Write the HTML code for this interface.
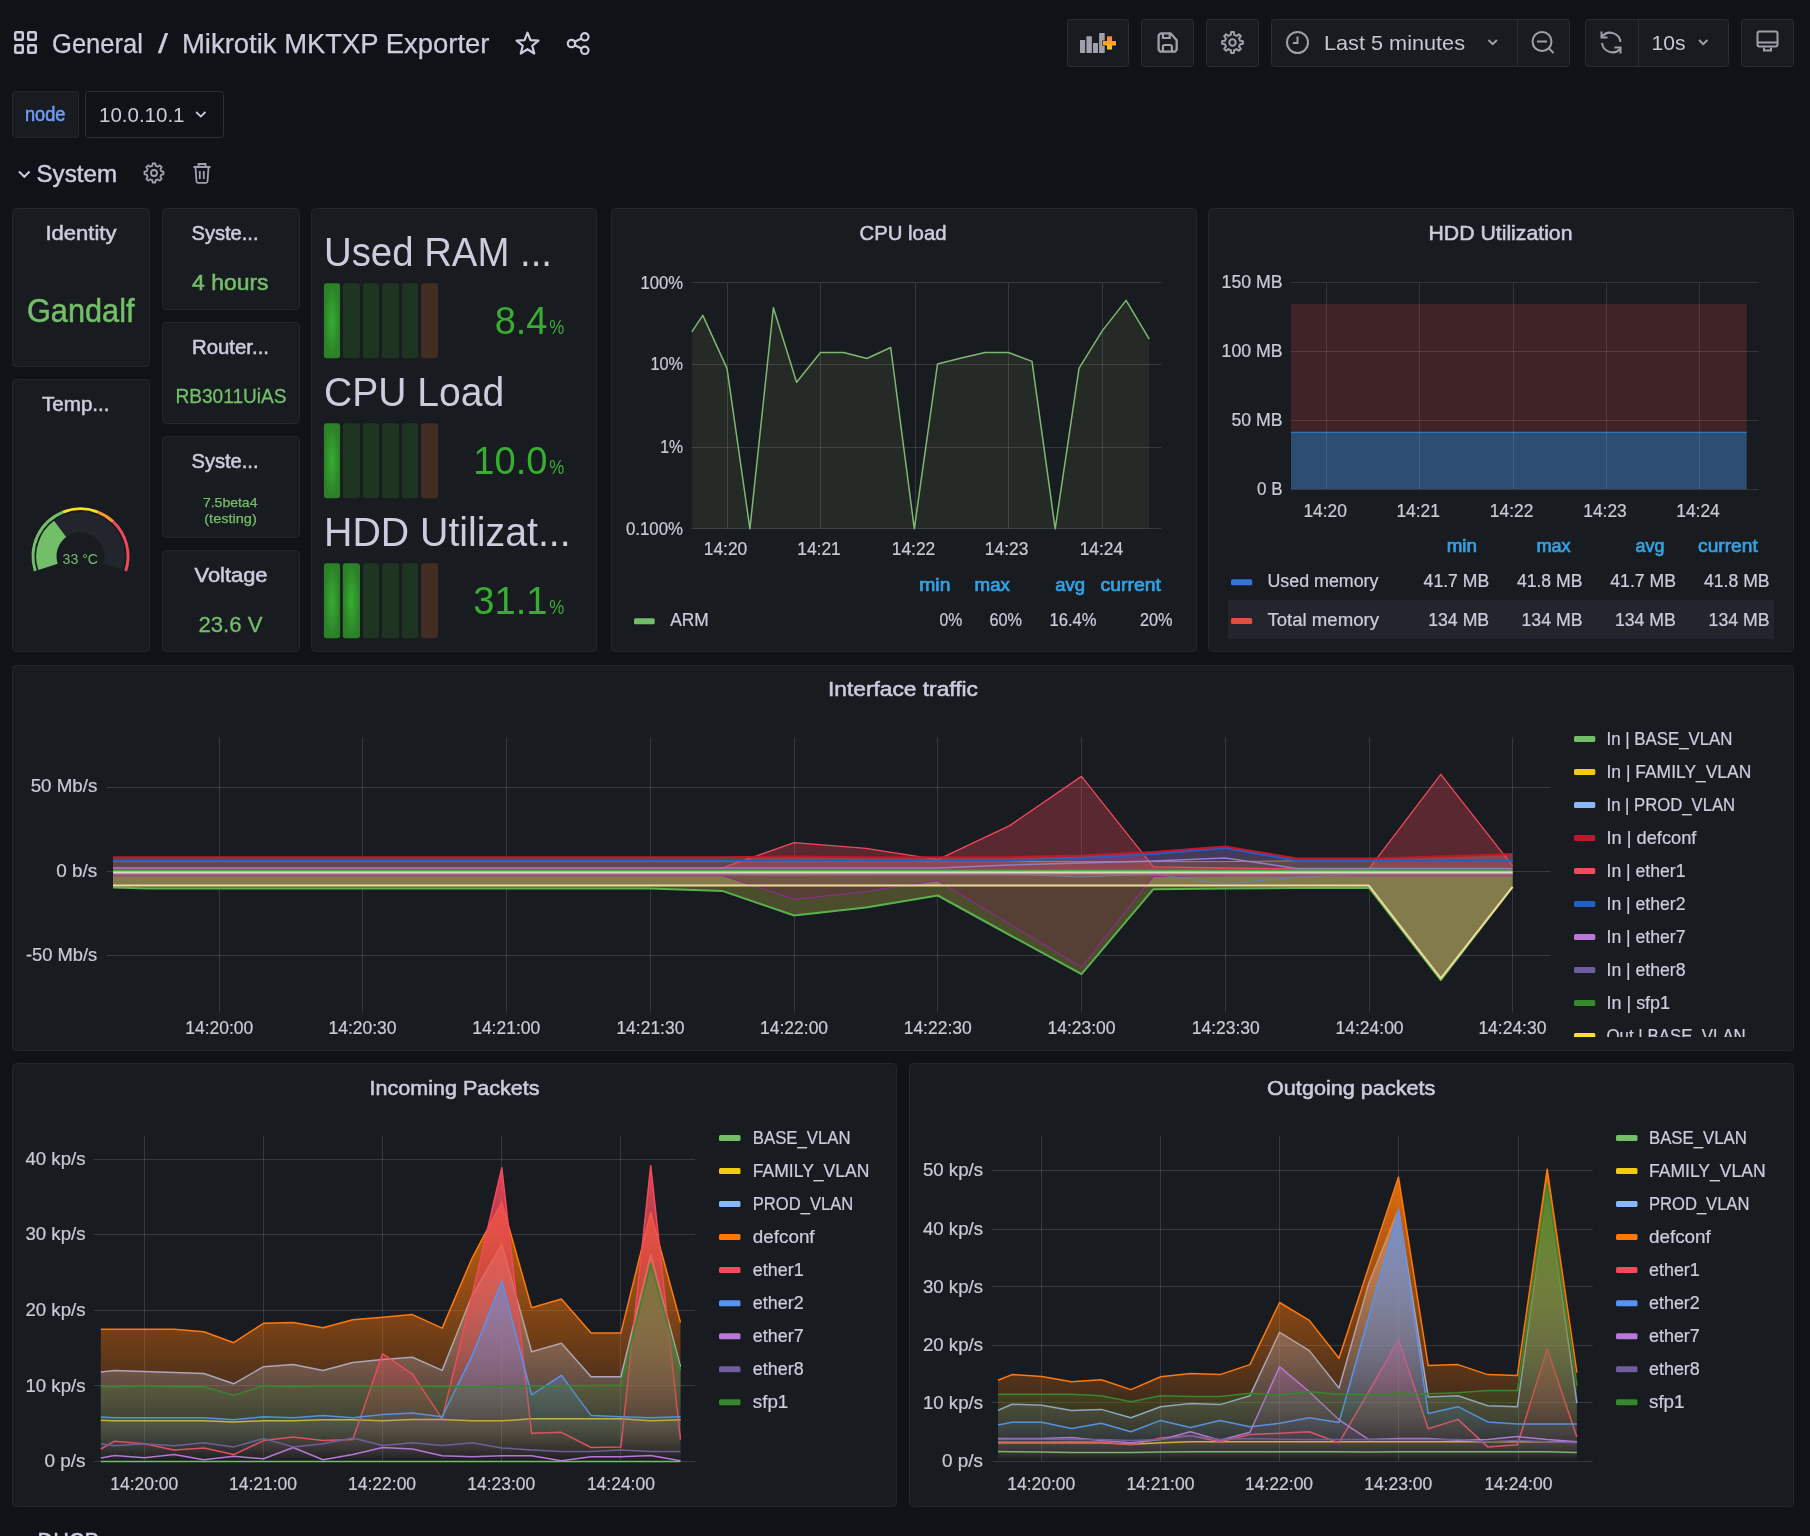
<!DOCTYPE html>
<html><head><meta charset="utf-8"><title>Mikrotik MKTXP Exporter - Grafana</title>
<style>
html,body{margin:0;padding:0;background:#111217;width:1810px;height:1536px;overflow:hidden;}
svg{display:block;font-family:"Liberation Sans", sans-serif;will-change:transform;}
</style></head><body>
<svg width="1810" height="1536" viewBox="0 0 1810 1536">
<defs><linearGradient id="plusg" x1="0" y1="0" x2="0" y2="1"><stop offset="0" stop-color="#f57c3c"/><stop offset="1" stop-color="#ffcb12"/></linearGradient><radialGradient id="lit" cx="0.5" cy="0.5" r="0.5" fx="0.5" fy="0.5"><stop offset="0" stop-color="#38ad32"/><stop offset="1" stop-color="#2c8028"/></radialGradient><clipPath id="lgclip"><rect x="1560" y="715" width="230" height="322"/></clipPath><linearGradient id="g_in_BASE_VLAN" gradientUnits="userSpaceOnUse" x1="0" y1="1135.4" x2="0" y2="1461.2"><stop offset="0" stop-color="#73bf69" stop-opacity="1"/><stop offset="1" stop-color="#73bf69" stop-opacity="0"/></linearGradient><linearGradient id="g_in_FAMILY_VLAN" gradientUnits="userSpaceOnUse" x1="0" y1="1135.4" x2="0" y2="1461.2"><stop offset="0" stop-color="#f2cc0c" stop-opacity="1"/><stop offset="1" stop-color="#f2cc0c" stop-opacity="0"/></linearGradient><linearGradient id="g_in_PROD_VLAN" gradientUnits="userSpaceOnUse" x1="0" y1="1135.4" x2="0" y2="1461.2"><stop offset="0" stop-color="#8ab8ff" stop-opacity="1"/><stop offset="1" stop-color="#8ab8ff" stop-opacity="0"/></linearGradient><linearGradient id="g_in_defconf" gradientUnits="userSpaceOnUse" x1="0" y1="1135.4" x2="0" y2="1461.2"><stop offset="0" stop-color="#ff780a" stop-opacity="1"/><stop offset="1" stop-color="#ff780a" stop-opacity="0"/></linearGradient><linearGradient id="g_in_ether1" gradientUnits="userSpaceOnUse" x1="0" y1="1135.4" x2="0" y2="1461.2"><stop offset="0" stop-color="#f2495c" stop-opacity="1"/><stop offset="1" stop-color="#f2495c" stop-opacity="0"/></linearGradient><linearGradient id="g_in_ether2" gradientUnits="userSpaceOnUse" x1="0" y1="1135.4" x2="0" y2="1461.2"><stop offset="0" stop-color="#5794f2" stop-opacity="1"/><stop offset="1" stop-color="#5794f2" stop-opacity="0"/></linearGradient><linearGradient id="g_in_ether7" gradientUnits="userSpaceOnUse" x1="0" y1="1135.4" x2="0" y2="1461.2"><stop offset="0" stop-color="#b877d9" stop-opacity="1"/><stop offset="1" stop-color="#b877d9" stop-opacity="0"/></linearGradient><linearGradient id="g_in_ether8" gradientUnits="userSpaceOnUse" x1="0" y1="1135.4" x2="0" y2="1461.2"><stop offset="0" stop-color="#705da0" stop-opacity="1"/><stop offset="1" stop-color="#705da0" stop-opacity="0"/></linearGradient><linearGradient id="g_in_sfp1" gradientUnits="userSpaceOnUse" x1="0" y1="1135.4" x2="0" y2="1461.2"><stop offset="0" stop-color="#37872d" stop-opacity="1"/><stop offset="1" stop-color="#37872d" stop-opacity="0"/></linearGradient><linearGradient id="g_out_BASE_VLAN" gradientUnits="userSpaceOnUse" x1="0" y1="1135.4" x2="0" y2="1461.2"><stop offset="0" stop-color="#73bf69" stop-opacity="1"/><stop offset="1" stop-color="#73bf69" stop-opacity="0"/></linearGradient><linearGradient id="g_out_FAMILY_VLAN" gradientUnits="userSpaceOnUse" x1="0" y1="1135.4" x2="0" y2="1461.2"><stop offset="0" stop-color="#f2cc0c" stop-opacity="1"/><stop offset="1" stop-color="#f2cc0c" stop-opacity="0"/></linearGradient><linearGradient id="g_out_PROD_VLAN" gradientUnits="userSpaceOnUse" x1="0" y1="1135.4" x2="0" y2="1461.2"><stop offset="0" stop-color="#8ab8ff" stop-opacity="1"/><stop offset="1" stop-color="#8ab8ff" stop-opacity="0"/></linearGradient><linearGradient id="g_out_defconf" gradientUnits="userSpaceOnUse" x1="0" y1="1135.4" x2="0" y2="1461.2"><stop offset="0" stop-color="#ff780a" stop-opacity="1"/><stop offset="1" stop-color="#ff780a" stop-opacity="0"/></linearGradient><linearGradient id="g_out_ether1" gradientUnits="userSpaceOnUse" x1="0" y1="1135.4" x2="0" y2="1461.2"><stop offset="0" stop-color="#f2495c" stop-opacity="1"/><stop offset="1" stop-color="#f2495c" stop-opacity="0"/></linearGradient><linearGradient id="g_out_ether2" gradientUnits="userSpaceOnUse" x1="0" y1="1135.4" x2="0" y2="1461.2"><stop offset="0" stop-color="#5794f2" stop-opacity="1"/><stop offset="1" stop-color="#5794f2" stop-opacity="0"/></linearGradient><linearGradient id="g_out_ether7" gradientUnits="userSpaceOnUse" x1="0" y1="1135.4" x2="0" y2="1461.2"><stop offset="0" stop-color="#b877d9" stop-opacity="1"/><stop offset="1" stop-color="#b877d9" stop-opacity="0"/></linearGradient><linearGradient id="g_out_ether8" gradientUnits="userSpaceOnUse" x1="0" y1="1135.4" x2="0" y2="1461.2"><stop offset="0" stop-color="#705da0" stop-opacity="1"/><stop offset="1" stop-color="#705da0" stop-opacity="0"/></linearGradient><linearGradient id="g_out_sfp1" gradientUnits="userSpaceOnUse" x1="0" y1="1135.4" x2="0" y2="1461.2"><stop offset="0" stop-color="#37872d" stop-opacity="1"/><stop offset="1" stop-color="#37872d" stop-opacity="0"/></linearGradient></defs>
<rect width="1810" height="1536" fill="#111217"/>
<rect x="15.25" y="32.25" width="7.5" height="7.5" rx="1" fill="none" stroke="#ccccdc" stroke-width="2.5"/>
<rect x="28.25" y="32.25" width="7.5" height="7.5" rx="1" fill="none" stroke="#ccccdc" stroke-width="2.5"/>
<rect x="15.25" y="45.25" width="7.5" height="7.5" rx="1" fill="none" stroke="#ccccdc" stroke-width="2.5"/>
<rect x="28.25" y="45.25" width="7.5" height="7.5" rx="1" fill="none" stroke="#ccccdc" stroke-width="2.5"/>
<text x="52.0" y="52.8" font-size="27" fill="#ccccdc" textLength="91.0" lengthAdjust="spacingAndGlyphs" stroke="#ccccdc" stroke-width="0.25" >General</text>
<text x="158.0" y="52.8" font-size="27" fill="#ccccdc" textLength="10.0" lengthAdjust="spacingAndGlyphs" stroke="#ccccdc" stroke-width="0.25" >/</text>
<text x="182.0" y="52.8" font-size="27" fill="#ccccdc" textLength="307.5" lengthAdjust="spacingAndGlyphs" stroke="#ccccdc" stroke-width="0.25" >Mikrotik MKTXP Exporter</text>
<polygon points="527.50,32.70 530.44,40.15 538.44,40.65 532.26,45.75 534.26,53.50 527.50,49.20 520.74,53.50 522.74,45.75 516.56,40.65 524.56,40.15" fill="none" stroke="#ccccdc" stroke-width="2.2" stroke-linejoin="round"/>
<g fill="none" stroke="#ccccdc" stroke-width="2.2"><circle cx="584.8" cy="36.8" r="3.7"/><circle cx="584.8" cy="50.3" r="3.7"/><circle cx="571.5" cy="43.5" r="3.7"/><line x1="574.8" y1="41.7" x2="581.5" y2="38.5"/><line x1="574.8" y1="45.3" x2="581.5" y2="48.6"/></g>
<rect x="1067.5" y="19.5" width="61" height="47" rx="3" fill="#181b1f" stroke="#2a2c31"/>
<rect x="1141.5" y="19.5" width="52" height="47" rx="3" fill="#181b1f" stroke="#2a2c31"/>
<rect x="1206.5" y="19.5" width="52" height="47" rx="3" fill="#181b1f" stroke="#2a2c31"/>
<rect x="1271.5" y="19.5" width="298" height="47" rx="3" fill="#181b1f" stroke="#2a2c31"/>
<line x1="1517.5" y1="20" x2="1517.5" y2="66" stroke="#2a2c31"/>
<rect x="1585.5" y="19.5" width="143" height="47" rx="3" fill="#181b1f" stroke="#2a2c31"/>
<line x1="1638.5" y1="20" x2="1638.5" y2="66" stroke="#2a2c31"/>
<rect x="1741.5" y="19.5" width="52" height="47" rx="3" fill="#181b1f" stroke="#2a2c31"/>
<g fill="#9fa0ab"><rect x="1080" y="39.9" width="5.1" height="13" rx="0.5"/><rect x="1086.4" y="36.2" width="5.5" height="16.7" rx="0.5"/><rect x="1093" y="42.9" width="5" height="10" rx="0.5"/><rect x="1099.1" y="33" width="5.6" height="19.9" rx="0.5"/></g>
<path d="M1107 36.3 h5.1 v4.8 h3.9 v4.3 h-3.9 v4.2 h-5.1 v-4.2 h-4.1 v-4.3 h4.1 z" fill="url(#plusg)" stroke="#0d1520" stroke-width="1.2" paint-order="stroke"/>
<path d="M1161.6 33.4 h9.1 l6 6.9 v8.4 a3 3 0 0 1 -3 3 h-12.1 a3 3 0 0 1 -3 -3 v-12.3 a3 3 0 0 1 3 -3 z" fill="none" stroke="#9fa0ab" stroke-width="2.3" stroke-linejoin="round"/><path d="M1162.9 33.4 v4.6 h6.8 v-4.6 M1162.9 51.7 v-4.7 a2 2 0 0 1 2 -2 h5 a2 2 0 0 1 2 2 v4.7" fill="none" stroke="#9fa0ab" stroke-width="2.2"/>
<polygon points="1240.11,40.80 1242.91,41.14 1242.91,43.86 1240.11,44.20 1239.09,46.68 1240.82,48.90 1238.90,50.82 1236.68,49.09 1234.20,50.11 1233.86,52.91 1231.14,52.91 1230.80,50.11 1228.32,49.09 1226.10,50.82 1224.18,48.90 1225.91,46.68 1224.89,44.20 1222.09,43.86 1222.09,41.14 1224.89,40.80 1225.91,38.32 1224.18,36.10 1226.10,34.18 1228.32,35.91 1230.80,34.89 1231.14,32.09 1233.86,32.09 1234.20,34.89 1236.68,35.91 1238.90,34.18 1240.82,36.10 1239.09,38.32" fill="none" stroke="#9fa0ab" stroke-width="2" stroke-linejoin="round"/>
<circle cx="1232.5" cy="42.5" r="3.2" fill="none" stroke="#9fa0ab" stroke-width="2"/>
<circle cx="1297.5" cy="42.5" r="10.5" fill="none" stroke="#9fa0ab" stroke-width="2"/><path d="M1297.5 36.5 v6.5 h-4.5" fill="none" stroke="#9fa0ab" stroke-width="2"/>
<text x="1324.0" y="49.8" font-size="21" fill="#c7c8d4" textLength="141.0" lengthAdjust="spacingAndGlyphs" >Last 5 minutes</text>
<path d="M1488.5 40 l4.2 4.2 l4.2 -4.2" fill="none" stroke="#9fa0ab" stroke-width="2"/>
<circle cx="1542" cy="41.5" r="9.5" fill="none" stroke="#9fa0ab" stroke-width="2"/><path d="M1537 41.5 h10 M1548.8 48.3 l4.8 4.8" fill="none" stroke="#9fa0ab" stroke-width="2"/>
<path d="M1602 36.5 a10.5 10.5 0 0 1 18.5 5.5 M1620.5 48.5 a10.5 10.5 0 0 1 -18.5 -5.5" fill="none" stroke="#9fa0ab" stroke-width="2"/><path d="M1601.5 31.5 v6 h6 M1620.5 53.5 v-6 h-6" fill="none" stroke="#9fa0ab" stroke-width="2"/>
<text x="1651.5" y="49.5" font-size="21" fill="#c7c8d4" textLength="34.0" lengthAdjust="spacingAndGlyphs" >10s</text>
<path d="M1699 40 l4.2 4.2 l4.2 -4.2" fill="none" stroke="#9fa0ab" stroke-width="2"/>
<rect x="1757.5" y="31.5" width="20" height="15" rx="2" fill="none" stroke="#9fa0ab" stroke-width="2"/><path d="M1758 42.5 h19 M1764 47.5 v3 h7 v-3" fill="none" stroke="#9fa0ab" stroke-width="2"/>
<rect x="12.5" y="91.5" width="66" height="46" rx="3" fill="#181b1f" stroke="#24262b"/>
<text x="25.0" y="121.1" font-size="21" fill="#6e9fff" textLength="40.5" lengthAdjust="spacingAndGlyphs" stroke="#6e9fff" stroke-width="0.55" >node</text>
<rect x="85.5" y="91.5" width="138" height="46" rx="3" fill="#111217" stroke="#2c2e33"/>
<text x="99.0" y="122.2" font-size="21" fill="#ccccdc" textLength="85.5" lengthAdjust="spacingAndGlyphs" >10.0.10.1</text>
<path d="M196.2 112 l4.6 4.6 l4.6 -4.6" fill="none" stroke="#ccccdc" stroke-width="1.8"/>
<path d="M19 171.5 l5.3 5.3 l5.3 -5.3" fill="none" stroke="#ccccdc" stroke-width="2"/>
<text x="36.5" y="182.1" font-size="23.5" fill="#ccccdc" textLength="80.5" lengthAdjust="spacingAndGlyphs" stroke="#ccccdc" stroke-width="0.45" >System</text>
<polygon points="161.19,171.24 163.51,171.66 163.51,174.34 161.19,174.76 160.33,176.84 161.67,178.77 159.77,180.67 157.84,179.33 155.76,180.19 155.34,182.51 152.66,182.51 152.24,180.19 150.16,179.33 148.23,180.67 146.33,178.77 147.67,176.84 146.81,174.76 144.49,174.34 144.49,171.66 146.81,171.24 147.67,169.16 146.33,167.23 148.23,165.33 150.16,166.67 152.24,165.81 152.66,163.49 155.34,163.49 155.76,165.81 157.84,166.67 159.77,165.33 161.67,167.23 160.33,169.16" fill="none" stroke="#9fa0ab" stroke-width="1.8" stroke-linejoin="round"/><circle cx="154" cy="173" r="3" fill="none" stroke="#9fa0ab" stroke-width="1.8"/>
<path d="M193.5 167 h17 M198.5 166.5 v-2.5 h7 v2.5 M195.5 167.5 l1 14 a1.5 1.5 0 0 0 1.5 1.3 h8 a1.5 1.5 0 0 0 1.5 -1.3 l1 -14 M199.8 171 v8 M203.8 171 v8" fill="none" stroke="#9fa0ab" stroke-width="1.8"/>
<text x="37.5" y="1549.7" font-size="23.5" fill="#ccccdc" textLength="61.5" lengthAdjust="spacingAndGlyphs" stroke="#ccccdc" stroke-width="0.45" >DHCP</text>
<rect x="12.5" y="208.5" width="137" height="158" rx="4" fill="#181b1f" stroke="#24262b" stroke-width="1"/>
<text x="45.5" y="240.2" font-size="21" fill="#ccccdc" textLength="71.0" lengthAdjust="spacingAndGlyphs" stroke="#ccccdc" stroke-width="0.55" >Identity</text>
<text x="27.0" y="322.2" font-size="32.5" fill="#73bf69" textLength="107.5" lengthAdjust="spacingAndGlyphs" stroke="#73bf69" stroke-width="0.5" >Gandalf</text>
<rect x="12.5" y="379.5" width="137" height="272" rx="4" fill="#181b1f" stroke="#24262b" stroke-width="1"/>
<text x="42.0" y="410.8" font-size="21" fill="#ccccdc" textLength="67.5" lengthAdjust="spacingAndGlyphs" stroke="#ccccdc" stroke-width="0.55" >Temp...</text>
<rect x="162.5" y="208.5" width="137" height="101" rx="4" fill="#181b1f" stroke="#24262b" stroke-width="1"/>
<text x="191.5" y="239.5" font-size="21" fill="#ccccdc" textLength="67.0" lengthAdjust="spacingAndGlyphs" stroke="#ccccdc" stroke-width="0.55" >Syste...</text>
<text x="192.0" y="289.8" font-size="22" fill="#73bf69" textLength="76.5" lengthAdjust="spacingAndGlyphs" stroke="#73bf69" stroke-width="0.55" >4 hours</text>
<rect x="162.5" y="322.5" width="137" height="101" rx="4" fill="#181b1f" stroke="#24262b" stroke-width="1"/>
<text x="192.0" y="353.7" font-size="21" fill="#ccccdc" textLength="77.0" lengthAdjust="spacingAndGlyphs" stroke="#ccccdc" stroke-width="0.55" >Router...</text>
<text x="175.5" y="402.5" font-size="20.5" fill="#73bf69" textLength="111.0" lengthAdjust="spacingAndGlyphs" stroke="#73bf69" stroke-width="0.3" >RB3011UiAS</text>
<rect x="162.5" y="436.5" width="137" height="101" rx="4" fill="#181b1f" stroke="#24262b" stroke-width="1"/>
<text x="191.5" y="467.7" font-size="21" fill="#ccccdc" textLength="67.0" lengthAdjust="spacingAndGlyphs" stroke="#ccccdc" stroke-width="0.55" >Syste...</text>
<text x="230.2" y="507.0" font-size="13" fill="#73bf69" text-anchor="middle" textLength="54.5" lengthAdjust="spacingAndGlyphs" stroke="#73bf69" stroke-width="0.25" >7.5beta4</text>
<text x="230.5" y="522.5" font-size="13" fill="#73bf69" text-anchor="middle" textLength="52.5" lengthAdjust="spacingAndGlyphs" stroke="#73bf69" stroke-width="0.25" >(testing)</text>
<rect x="162.5" y="550.5" width="137" height="101" rx="4" fill="#181b1f" stroke="#24262b" stroke-width="1"/>
<text x="194.5" y="581.6" font-size="21" fill="#ccccdc" textLength="73.0" lengthAdjust="spacingAndGlyphs" stroke="#ccccdc" stroke-width="0.55" >Voltage</text>
<text x="198.5" y="631.8" font-size="22" fill="#73bf69" textLength="64.0" lengthAdjust="spacingAndGlyphs" stroke="#73bf69" stroke-width="0.3" >23.6 V</text>
<path d="M38.37,569.99 A44.3,44.3 0 1 1 122.63,569.99 L103.33,563.72 A24.0,24.0 0 1 0 57.67,563.72 Z" fill="#22252b"/>
<path d="M38.37,569.99 A44.3,44.3 0 0 1 54.01,520.79 L66.15,537.06 A24.0,24.0 0 0 0 57.67,563.72 Z" fill="#73bf69"/>
<path d="M33.90,571.44 A49.0,49.0 0 0 1 62.46,510.74 L63.53,513.44 A46.1,46.1 0 0 0 36.66,570.55 Z" fill="#73bf69"/>
<path d="M62.46,510.74 A49.0,49.0 0 0 1 98.54,510.74 L97.47,513.44 A46.1,46.1 0 0 0 63.53,513.44 Z" fill="#fade2a"/>
<path d="M98.54,510.74 A49.0,49.0 0 0 1 114.04,520.58 L112.06,522.69 A46.1,46.1 0 0 0 97.47,513.44 Z" fill="#ff9830"/>
<path d="M114.04,520.58 A49.0,49.0 0 0 1 127.10,571.44 L124.34,570.55 A46.1,46.1 0 0 0 112.06,522.69 Z" fill="#f2495c"/>
<text x="80.3" y="564.3" font-size="15.5" fill="#73bf69" text-anchor="middle" textLength="35.5" lengthAdjust="spacingAndGlyphs" >33 °C</text>
<rect x="311.5" y="208.5" width="285" height="443" rx="4" fill="#181b1f" stroke="#24262b" stroke-width="1"/>
<text x="324.0" y="265.9" font-size="41" fill="#ccccdc" textLength="228.0" lengthAdjust="spacingAndGlyphs" >Used RAM ...</text>
<rect x="323.9" y="283.3" width="16.2" height="75" rx="3" fill="url(#lit)"/>
<rect x="342.8" y="283.3" width="17.2" height="75" rx="3" fill="#1e3522"/>
<rect x="362.9" y="283.3" width="16.2" height="75" rx="3" fill="#1e3522"/>
<rect x="381.9" y="283.3" width="17.3" height="75" rx="3" fill="#1e3522"/>
<rect x="401.9" y="283.3" width="16.2" height="75" rx="3" fill="#1e3522"/>
<rect x="420.9" y="283.3" width="17.2" height="75" rx="3" fill="#412d22"/>
<text x="547.5" y="334.0" font-size="39" fill="#37ae31" text-anchor="end" textLength="52.8" lengthAdjust="spacingAndGlyphs" >8.4</text>
<text x="549.3" y="334.0" font-size="21" fill="#37ae31" textLength="15.0" lengthAdjust="spacingAndGlyphs" >%</text>
<text x="324.0" y="406.1" font-size="41" fill="#ccccdc" textLength="180.2" lengthAdjust="spacingAndGlyphs" >CPU Load</text>
<rect x="323.9" y="423.2" width="16.2" height="75" rx="3" fill="url(#lit)"/>
<rect x="342.8" y="423.2" width="17.2" height="75" rx="3" fill="#1e3522"/>
<rect x="362.9" y="423.2" width="16.2" height="75" rx="3" fill="#1e3522"/>
<rect x="381.9" y="423.2" width="17.3" height="75" rx="3" fill="#1e3522"/>
<rect x="401.9" y="423.2" width="16.2" height="75" rx="3" fill="#1e3522"/>
<rect x="420.9" y="423.2" width="17.2" height="75" rx="3" fill="#412d22"/>
<text x="547.5" y="474.2" font-size="39" fill="#37ae31" text-anchor="end" textLength="74.2" lengthAdjust="spacingAndGlyphs" >10.0</text>
<text x="549.3" y="474.2" font-size="21" fill="#37ae31" textLength="15.0" lengthAdjust="spacingAndGlyphs" >%</text>
<text x="324.0" y="546.0" font-size="41" fill="#ccccdc" textLength="246.7" lengthAdjust="spacingAndGlyphs" >HDD Utilizat...</text>
<rect x="323.9" y="563.2" width="16.2" height="75" rx="3" fill="url(#lit)"/>
<rect x="342.8" y="563.2" width="17.2" height="75" rx="3" fill="url(#lit)"/>
<rect x="362.9" y="563.2" width="16.2" height="75" rx="3" fill="#1e3522"/>
<rect x="381.9" y="563.2" width="17.3" height="75" rx="3" fill="#1e3522"/>
<rect x="401.9" y="563.2" width="16.2" height="75" rx="3" fill="#1e3522"/>
<rect x="420.9" y="563.2" width="17.2" height="75" rx="3" fill="#412d22"/>
<text x="547.5" y="614.1" font-size="39" fill="#37ae31" text-anchor="end" textLength="74.2" lengthAdjust="spacingAndGlyphs" >31.1</text>
<text x="549.3" y="614.1" font-size="21" fill="#37ae31" textLength="15.0" lengthAdjust="spacingAndGlyphs" >%</text>
<rect x="611.5" y="208.5" width="585" height="443" rx="4" fill="#181b1f" stroke="#24262b" stroke-width="1"/>
<text x="859.5" y="240.4" font-size="21" fill="#ccccdc" textLength="87.0" lengthAdjust="spacingAndGlyphs" stroke="#ccccdc" stroke-width="0.55" >CPU load</text>
<line x1="691.3" y1="282.5" x2="1161.2" y2="282.5" stroke="rgba(255,255,255,0.13)" stroke-width="1"/>
<text x="683.0" y="288.8" font-size="18" fill="#c9cad6" text-anchor="end" textLength="42.5" lengthAdjust="spacingAndGlyphs" stroke="#c9cad6" stroke-width="0.22" >100%</text>
<line x1="691.3" y1="364.5" x2="1161.2" y2="364.5" stroke="rgba(255,255,255,0.13)" stroke-width="1"/>
<text x="683.0" y="370.0" font-size="18" fill="#c9cad6" text-anchor="end" textLength="32.6" lengthAdjust="spacingAndGlyphs" stroke="#c9cad6" stroke-width="0.22" >10%</text>
<line x1="691.3" y1="447.5" x2="1161.2" y2="447.5" stroke="rgba(255,255,255,0.13)" stroke-width="1"/>
<text x="683.0" y="452.9" font-size="18" fill="#c9cad6" text-anchor="end" textLength="22.8" lengthAdjust="spacingAndGlyphs" stroke="#c9cad6" stroke-width="0.22" >1%</text>
<line x1="691.3" y1="528.5" x2="1161.2" y2="528.5" stroke="rgba(255,255,255,0.13)" stroke-width="1"/>
<text x="683.0" y="534.7" font-size="18" fill="#c9cad6" text-anchor="end" textLength="57.0" lengthAdjust="spacingAndGlyphs" stroke="#c9cad6" stroke-width="0.22" >0.100%</text>
<line x1="727.5" y1="282.9" x2="727.5" y2="528.8" stroke="rgba(255,255,255,0.13)" stroke-width="1"/>
<text x="725.5" y="555.4" font-size="18" fill="#c9cad6" text-anchor="middle" textLength="43.5" lengthAdjust="spacingAndGlyphs" stroke="#c9cad6" stroke-width="0.22" >14:20</text>
<line x1="820.5" y1="282.9" x2="820.5" y2="528.8" stroke="rgba(255,255,255,0.13)" stroke-width="1"/>
<text x="819.0" y="555.4" font-size="18" fill="#c9cad6" text-anchor="middle" textLength="43.5" lengthAdjust="spacingAndGlyphs" stroke="#c9cad6" stroke-width="0.22" >14:21</text>
<line x1="915.5" y1="282.9" x2="915.5" y2="528.8" stroke="rgba(255,255,255,0.13)" stroke-width="1"/>
<text x="913.5" y="555.4" font-size="18" fill="#c9cad6" text-anchor="middle" textLength="43.5" lengthAdjust="spacingAndGlyphs" stroke="#c9cad6" stroke-width="0.22" >14:22</text>
<line x1="1008.5" y1="282.9" x2="1008.5" y2="528.8" stroke="rgba(255,255,255,0.13)" stroke-width="1"/>
<text x="1006.6" y="555.4" font-size="18" fill="#c9cad6" text-anchor="middle" textLength="43.5" lengthAdjust="spacingAndGlyphs" stroke="#c9cad6" stroke-width="0.22" >14:23</text>
<line x1="1102.5" y1="282.9" x2="1102.5" y2="528.8" stroke="rgba(255,255,255,0.13)" stroke-width="1"/>
<text x="1101.4" y="555.4" font-size="18" fill="#c9cad6" text-anchor="middle" textLength="43.5" lengthAdjust="spacingAndGlyphs" stroke="#c9cad6" stroke-width="0.22" >14:24</text>
<polygon points="691.8,528.8 691.8,331.9 702.8,315.4 727.0,368.4 749.9,528.8 773.4,307.7 796.6,382.3 820.5,352.5 843.7,352.5 866.9,358.5 890.7,347.5 914.3,528.8 937.5,364.1 961.3,358.1 985.2,352.5 1008.4,352.5 1032.0,361.4 1055.2,528.8 1079.0,368.4 1102.2,330.9 1126.1,300.4 1149.3,339.2 1149.3,528.8" fill="#9ab179" fill-opacity="0.1"/>
<polyline points="691.8,331.9 702.8,315.4 727.0,368.4 749.9,528.8 773.4,307.7 796.6,382.3 820.5,352.5 843.7,352.5 866.9,358.5 890.7,347.5 914.3,528.8 937.5,364.1 961.3,358.1 985.2,352.5 1008.4,352.5 1032.0,361.4 1055.2,528.8 1079.0,368.4 1102.2,330.9 1126.1,300.4 1149.3,339.2" fill="none" stroke="#7eb870" stroke-width="1.5" stroke-linejoin="round"/>
<text x="919.3" y="591.2" font-size="18" fill="#33a2e5" textLength="31.1" lengthAdjust="spacingAndGlyphs" stroke="#33a2e5" stroke-width="0.7" >min</text>
<text x="974.6" y="591.2" font-size="18" fill="#33a2e5" textLength="35.4" lengthAdjust="spacingAndGlyphs" stroke="#33a2e5" stroke-width="0.7" >max</text>
<text x="1055.2" y="591.2" font-size="18" fill="#33a2e5" textLength="29.8" lengthAdjust="spacingAndGlyphs" stroke="#33a2e5" stroke-width="0.7" >avg</text>
<text x="1100.6" y="591.2" font-size="18" fill="#33a2e5" textLength="60.3" lengthAdjust="spacingAndGlyphs" stroke="#33a2e5" stroke-width="0.7" >current</text>
<rect x="634" y="618.3" width="20.7" height="6" rx="1.5" fill="#73bf69"/>
<text x="670.3" y="626.0" font-size="18" fill="#ccccdc" textLength="38.5" lengthAdjust="spacingAndGlyphs" stroke="#ccccdc" stroke-width="0.22" >ARM</text>
<text x="962.3" y="626.0" font-size="18" fill="#ccccdc" text-anchor="end" textLength="22.8" lengthAdjust="spacingAndGlyphs" stroke="#ccccdc" stroke-width="0.22" >0%</text>
<text x="1022.0" y="626.0" font-size="18" fill="#ccccdc" text-anchor="end" textLength="32.6" lengthAdjust="spacingAndGlyphs" stroke="#ccccdc" stroke-width="0.22" >60%</text>
<text x="1096.6" y="626.0" font-size="18" fill="#ccccdc" text-anchor="end" textLength="47.1" lengthAdjust="spacingAndGlyphs" stroke="#ccccdc" stroke-width="0.22" >16.4%</text>
<text x="1172.5" y="626.0" font-size="18" fill="#ccccdc" text-anchor="end" textLength="32.6" lengthAdjust="spacingAndGlyphs" stroke="#ccccdc" stroke-width="0.22" >20%</text>
<rect x="1208.5" y="208.5" width="585" height="443" rx="4" fill="#181b1f" stroke="#24262b" stroke-width="1"/>
<text x="1428.5" y="240.4" font-size="21" fill="#ccccdc" textLength="144.0" lengthAdjust="spacingAndGlyphs" stroke="#ccccdc" stroke-width="0.55" >HDD Utilization</text>
<rect x="1291" y="303.8" width="455.7" height="128.1" fill="#402327"/>
<rect x="1291" y="431.9" width="455.7" height="57.3" fill="#2e4d72"/>
<line x1="1291" y1="432.4" x2="1746.7" y2="432.4" stroke="#2a74c0" stroke-width="1.4"/>
<line x1="1291" y1="282.5" x2="1758.5" y2="282.5" stroke="rgba(255,255,255,0.11)" stroke-width="1"/>
<text x="1282.6" y="288.4" font-size="18" fill="#c9cad6" text-anchor="end" textLength="61.0" lengthAdjust="spacingAndGlyphs" stroke="#c9cad6" stroke-width="0.22" >150 MB</text>
<line x1="1291" y1="351.5" x2="1758.5" y2="351.5" stroke="rgba(255,255,255,0.11)" stroke-width="1"/>
<text x="1282.6" y="356.8" font-size="18" fill="#c9cad6" text-anchor="end" textLength="61.0" lengthAdjust="spacingAndGlyphs" stroke="#c9cad6" stroke-width="0.22" >100 MB</text>
<line x1="1291" y1="420.5" x2="1758.5" y2="420.5" stroke="rgba(255,255,255,0.11)" stroke-width="1"/>
<text x="1282.6" y="425.9" font-size="18" fill="#c9cad6" text-anchor="end" textLength="51.1" lengthAdjust="spacingAndGlyphs" stroke="#c9cad6" stroke-width="0.22" >50 MB</text>
<line x1="1291" y1="489.5" x2="1758.5" y2="489.5" stroke="rgba(255,255,255,0.11)" stroke-width="1"/>
<text x="1282.6" y="495.0" font-size="18" fill="#c9cad6" text-anchor="end" textLength="25.5" lengthAdjust="spacingAndGlyphs" stroke="#c9cad6" stroke-width="0.22" >0 B</text>
<line x1="1326.5" y1="282.6" x2="1326.5" y2="489.2" stroke="rgba(255,255,255,0.11)" stroke-width="1"/>
<text x="1325.2" y="516.8" font-size="18" fill="#c9cad6" text-anchor="middle" textLength="43.5" lengthAdjust="spacingAndGlyphs" stroke="#c9cad6" stroke-width="0.22" >14:20</text>
<line x1="1419.5" y1="282.6" x2="1419.5" y2="489.2" stroke="rgba(255,255,255,0.11)" stroke-width="1"/>
<text x="1418.2" y="516.8" font-size="18" fill="#c9cad6" text-anchor="middle" textLength="43.5" lengthAdjust="spacingAndGlyphs" stroke="#c9cad6" stroke-width="0.22" >14:21</text>
<line x1="1513.5" y1="282.6" x2="1513.5" y2="489.2" stroke="rgba(255,255,255,0.11)" stroke-width="1"/>
<text x="1511.6" y="516.8" font-size="18" fill="#c9cad6" text-anchor="middle" textLength="43.5" lengthAdjust="spacingAndGlyphs" stroke="#c9cad6" stroke-width="0.22" >14:22</text>
<line x1="1606.5" y1="282.6" x2="1606.5" y2="489.2" stroke="rgba(255,255,255,0.11)" stroke-width="1"/>
<text x="1605.0" y="516.8" font-size="18" fill="#c9cad6" text-anchor="middle" textLength="43.5" lengthAdjust="spacingAndGlyphs" stroke="#c9cad6" stroke-width="0.22" >14:23</text>
<line x1="1699.5" y1="282.6" x2="1699.5" y2="489.2" stroke="rgba(255,255,255,0.11)" stroke-width="1"/>
<text x="1698.0" y="516.8" font-size="18" fill="#c9cad6" text-anchor="middle" textLength="43.5" lengthAdjust="spacingAndGlyphs" stroke="#c9cad6" stroke-width="0.22" >14:24</text>
<text x="1446.7" y="552.2" font-size="18" fill="#33a2e5" textLength="30.3" lengthAdjust="spacingAndGlyphs" stroke="#33a2e5" stroke-width="0.7" >min</text>
<text x="1536.4" y="552.2" font-size="18" fill="#33a2e5" textLength="34.3" lengthAdjust="spacingAndGlyphs" stroke="#33a2e5" stroke-width="0.7" >max</text>
<text x="1635.5" y="552.2" font-size="18" fill="#33a2e5" textLength="28.9" lengthAdjust="spacingAndGlyphs" stroke="#33a2e5" stroke-width="0.7" >avg</text>
<text x="1698.1" y="552.2" font-size="18" fill="#33a2e5" textLength="59.7" lengthAdjust="spacingAndGlyphs" stroke="#33a2e5" stroke-width="0.7" >current</text>
<rect x="1228" y="600" width="546" height="38.8" fill="#22252b"/>
<rect x="1231" y="579.2" width="21.2" height="6" rx="1.5" fill="#3274d9"/>
<rect x="1231" y="618" width="21.2" height="6" rx="1.5" fill="#e0503f"/>
<text x="1267.4" y="586.8" font-size="18" fill="#ccccdc" textLength="111.1" lengthAdjust="spacingAndGlyphs" stroke="#ccccdc" stroke-width="0.22" >Used memory</text>
<text x="1267.4" y="625.6" font-size="18" fill="#ccccdc" textLength="111.6" lengthAdjust="spacingAndGlyphs" stroke="#ccccdc" stroke-width="0.22" >Total memory</text>
<text x="1489.2" y="586.8" font-size="18" fill="#ccccdc" text-anchor="end" textLength="65.6" lengthAdjust="spacingAndGlyphs" stroke="#ccccdc" stroke-width="0.22" >41.7 MB</text>
<text x="1582.5" y="586.8" font-size="18" fill="#ccccdc" text-anchor="end" textLength="65.6" lengthAdjust="spacingAndGlyphs" stroke="#ccccdc" stroke-width="0.22" >41.8 MB</text>
<text x="1675.9" y="586.8" font-size="18" fill="#ccccdc" text-anchor="end" textLength="65.6" lengthAdjust="spacingAndGlyphs" stroke="#ccccdc" stroke-width="0.22" >41.7 MB</text>
<text x="1769.6" y="586.8" font-size="18" fill="#ccccdc" text-anchor="end" textLength="65.6" lengthAdjust="spacingAndGlyphs" stroke="#ccccdc" stroke-width="0.22" >41.8 MB</text>
<text x="1489.2" y="625.6" font-size="18" fill="#ccccdc" text-anchor="end" textLength="61.0" lengthAdjust="spacingAndGlyphs" stroke="#ccccdc" stroke-width="0.22" >134 MB</text>
<text x="1582.5" y="625.6" font-size="18" fill="#ccccdc" text-anchor="end" textLength="61.0" lengthAdjust="spacingAndGlyphs" stroke="#ccccdc" stroke-width="0.22" >134 MB</text>
<text x="1675.9" y="625.6" font-size="18" fill="#ccccdc" text-anchor="end" textLength="61.0" lengthAdjust="spacingAndGlyphs" stroke="#ccccdc" stroke-width="0.22" >134 MB</text>
<text x="1769.6" y="625.6" font-size="18" fill="#ccccdc" text-anchor="end" textLength="61.0" lengthAdjust="spacingAndGlyphs" stroke="#ccccdc" stroke-width="0.22" >134 MB</text>
<rect x="12.5" y="665.5" width="1781" height="385" rx="4" fill="#181b1f" stroke="#24262b" stroke-width="1"/>
<text x="903.0" y="696.2" font-size="21" fill="#ccccdc" text-anchor="middle" textLength="150.0" lengthAdjust="spacingAndGlyphs" stroke="#ccccdc" stroke-width="0.55" >Interface traffic</text>
<line x1="106.5" y1="787.5" x2="1550" y2="787.5" stroke="rgba(255,255,255,0.13)" stroke-width="1"/>
<text x="97.3" y="792.4" font-size="18" fill="#c9cad6" text-anchor="end" textLength="66.6" lengthAdjust="spacingAndGlyphs" stroke="#c9cad6" stroke-width="0.22" >50 Mb/s</text>
<line x1="106.5" y1="871.5" x2="1550" y2="871.5" stroke="rgba(255,255,255,0.13)" stroke-width="1"/>
<text x="97.3" y="876.5" font-size="18" fill="#c9cad6" text-anchor="end" textLength="41.0" lengthAdjust="spacingAndGlyphs" stroke="#c9cad6" stroke-width="0.22" >0 b/s</text>
<line x1="106.5" y1="955.5" x2="1550" y2="955.5" stroke="rgba(255,255,255,0.13)" stroke-width="1"/>
<text x="97.3" y="960.6" font-size="18" fill="#c9cad6" text-anchor="end" textLength="71.4" lengthAdjust="spacingAndGlyphs" stroke="#c9cad6" stroke-width="0.22" >-50 Mb/s</text>
<line x1="219.5" y1="737.3" x2="219.5" y2="1012.6" stroke="rgba(255,255,255,0.13)" stroke-width="1"/>
<text x="219.3" y="1034.1" font-size="18" fill="#c9cad6" text-anchor="middle" textLength="68.0" lengthAdjust="spacingAndGlyphs" stroke="#c9cad6" stroke-width="0.22" >14:20:00</text>
<line x1="362.5" y1="737.3" x2="362.5" y2="1012.6" stroke="rgba(255,255,255,0.13)" stroke-width="1"/>
<text x="362.5" y="1034.1" font-size="18" fill="#c9cad6" text-anchor="middle" textLength="68.0" lengthAdjust="spacingAndGlyphs" stroke="#c9cad6" stroke-width="0.22" >14:20:30</text>
<line x1="506.5" y1="737.3" x2="506.5" y2="1012.6" stroke="rgba(255,255,255,0.13)" stroke-width="1"/>
<text x="506.2" y="1034.1" font-size="18" fill="#c9cad6" text-anchor="middle" textLength="68.0" lengthAdjust="spacingAndGlyphs" stroke="#c9cad6" stroke-width="0.22" >14:21:00</text>
<line x1="650.5" y1="737.3" x2="650.5" y2="1012.6" stroke="rgba(255,255,255,0.13)" stroke-width="1"/>
<text x="650.4" y="1034.1" font-size="18" fill="#c9cad6" text-anchor="middle" textLength="68.0" lengthAdjust="spacingAndGlyphs" stroke="#c9cad6" stroke-width="0.22" >14:21:30</text>
<line x1="794.5" y1="737.3" x2="794.5" y2="1012.6" stroke="rgba(255,255,255,0.13)" stroke-width="1"/>
<text x="794.1" y="1034.1" font-size="18" fill="#c9cad6" text-anchor="middle" textLength="68.0" lengthAdjust="spacingAndGlyphs" stroke="#c9cad6" stroke-width="0.22" >14:22:00</text>
<line x1="937.5" y1="737.3" x2="937.5" y2="1012.6" stroke="rgba(255,255,255,0.13)" stroke-width="1"/>
<text x="937.7" y="1034.1" font-size="18" fill="#c9cad6" text-anchor="middle" textLength="68.0" lengthAdjust="spacingAndGlyphs" stroke="#c9cad6" stroke-width="0.22" >14:22:30</text>
<line x1="1081.5" y1="737.3" x2="1081.5" y2="1012.6" stroke="rgba(255,255,255,0.13)" stroke-width="1"/>
<text x="1081.5" y="1034.1" font-size="18" fill="#c9cad6" text-anchor="middle" textLength="68.0" lengthAdjust="spacingAndGlyphs" stroke="#c9cad6" stroke-width="0.22" >14:23:00</text>
<line x1="1225.5" y1="737.3" x2="1225.5" y2="1012.6" stroke="rgba(255,255,255,0.13)" stroke-width="1"/>
<text x="1225.8" y="1034.1" font-size="18" fill="#c9cad6" text-anchor="middle" textLength="68.0" lengthAdjust="spacingAndGlyphs" stroke="#c9cad6" stroke-width="0.22" >14:23:30</text>
<line x1="1369.5" y1="737.3" x2="1369.5" y2="1012.6" stroke="rgba(255,255,255,0.13)" stroke-width="1"/>
<text x="1369.6" y="1034.1" font-size="18" fill="#c9cad6" text-anchor="middle" textLength="68.0" lengthAdjust="spacingAndGlyphs" stroke="#c9cad6" stroke-width="0.22" >14:24:00</text>
<line x1="1512.5" y1="737.3" x2="1512.5" y2="1012.6" stroke="rgba(255,255,255,0.13)" stroke-width="1"/>
<text x="1512.4" y="1034.1" font-size="18" fill="#c9cad6" text-anchor="middle" textLength="68.0" lengthAdjust="spacingAndGlyphs" stroke="#c9cad6" stroke-width="0.22" >14:24:30</text>
<polygon points="113.0,871.1 113.0,887.5 147.5,888.5 219.3,888.5 291.2,888.5 363.0,888.5 434.9,888.5 506.8,888.5 578.6,888.5 650.4,888.5 722.3,890.9 794.1,915.5 866.0,907.4 937.8,895.5 1009.7,935.0 1081.5,974.2 1153.4,889.2 1225.2,888.5 1297.1,888.0 1368.9,887.7 1440.8,980.2 1512.6,886.8 1512.6,871.1" fill="#4b4e2b" fill-opacity="1.0"/>
<polygon points="113.0,871.1 113.0,885.6 147.5,885.6 219.3,885.6 291.2,885.6 363.0,885.6 434.9,885.6 506.8,885.6 578.6,885.6 650.4,885.6 722.3,885.6 794.1,885.6 866.0,885.6 937.8,885.6 1009.7,885.6 1081.5,885.6 1153.4,885.6 1225.2,885.6 1297.1,885.6 1368.9,885.6 1440.8,978.4 1512.6,886.8 1512.6,871.1" fill="#827c4d" fill-opacity="1.0"/>
<polygon points="113.0,875 113.0,875.5 147.5,875.5 219.3,875.5 291.2,875.5 363.0,875.5 434.9,875.5 506.8,875.5 578.6,875.5 650.4,875.5 722.3,875.5 794.1,899.3 866.0,891.6 937.8,880.7 1009.7,924.0 1081.5,967.3 1153.4,876.3 1225.2,875.5 1297.1,875.5 1368.9,875.5 1440.8,875.5 1512.6,875.5 1512.6,875" fill="#60353e" fill-opacity="0.53"/>
<polygon points="113.0,871.1 113.0,857.2 147.5,857.2 219.3,857.2 291.2,857.2 363.0,857.2 434.9,857.2 506.8,857.2 578.6,857.2 650.4,857.2 722.3,857.2 794.1,856.6 866.0,857.2 937.8,857.2 1009.7,857.2 1081.5,855.5 1153.4,851.9 1225.2,846.5 1297.1,858.4 1368.9,858.4 1440.8,856.5 1512.6,854.0 1512.6,871.1" fill="#5d4850" fill-opacity="1.0"/>
<polygon points="113.0,861 113.0,860.7 147.5,860.7 219.3,860.7 291.2,860.7 363.0,860.7 434.9,860.7 506.8,860.7 578.6,860.7 650.4,860.7 722.3,860.7 794.1,860.7 866.0,860.7 937.8,860.7 1009.7,860.7 1081.5,858.4 1153.4,854.0 1225.2,848.0 1297.1,860.8 1368.9,860.8 1440.8,860.8 1512.6,860.8 1512.6,861" fill="#2c2c6a" fill-opacity="0.5"/>
<polygon points="113.0,871.1 113.0,868.0 147.5,868.0 219.3,868.0 291.2,868.0 363.0,868.0 434.9,868.0 506.8,868.0 578.6,868.0 650.4,868.0 722.3,868.0 794.1,842.6 866.0,848.4 937.8,859.6 1009.7,825.6 1081.5,776.4 1153.4,866.8 1225.2,868.0 1297.1,868.9 1368.9,868.9 1440.8,774.3 1512.6,865.9 1512.6,871.1" fill="#f2495c" fill-opacity="0.3"/>
<polyline points="113.0,875.5 147.5,875.5 219.3,875.5 291.2,875.5 363.0,875.5 434.9,875.5 506.8,875.5 578.6,875.5 650.4,875.5 722.3,875.5 794.1,899.3 866.0,891.6 937.8,880.7 1009.7,924.0 1081.5,967.3 1153.4,876.3 1225.2,875.5 1297.1,875.5 1368.9,875.5 1440.8,875.5 1512.6,875.5" fill="none" stroke="#8a2e8a" stroke-width="1.3" stroke-opacity="1.0" stroke-linejoin="round"/>
<polyline points="113.0,874.0 147.5,874.0 219.3,874.0 291.2,874.0 363.0,874.0 434.9,874.0 506.8,874.0 578.6,874.0 650.4,874.0 722.3,874.0 794.1,875.0 866.0,874.0 937.8,874.0 1009.7,874.0 1081.5,877.0 1153.4,874.0 1225.2,884.0 1297.1,877.0 1368.9,874.0 1440.8,874.0 1512.6,874.0" fill="none" stroke="#6b7fa8" stroke-width="1.2" stroke-opacity="1.0" stroke-linejoin="round"/>
<polyline points="113.0,874.8 147.5,874.8 219.3,874.8 291.2,874.8 363.0,874.8 434.9,874.8 506.8,874.8 578.6,874.8 650.4,874.8 722.3,874.8 794.1,874.8 866.0,874.8 937.8,874.8 1009.7,874.8 1081.5,874.8 1153.4,874.8 1225.2,874.8 1297.1,874.8 1368.9,874.8 1440.8,874.8 1512.6,874.8" fill="none" stroke="#b0607a" stroke-width="1.2" stroke-opacity="1.0" stroke-linejoin="round"/>
<polyline points="113.0,872.7 147.5,872.7 219.3,872.7 291.2,872.7 363.0,872.7 434.9,872.7 506.8,872.7 578.6,872.7 650.4,872.7 722.3,872.7 794.1,872.7 866.0,872.7 937.8,872.7 1009.7,872.7 1081.5,872.7 1153.4,872.7 1225.2,872.7 1297.1,872.7 1368.9,872.7 1440.8,872.7 1512.6,872.7" fill="none" stroke="#dcdcdc" stroke-width="1.5" stroke-opacity="1.0" stroke-linejoin="round"/>
<polyline points="113.0,871.6 147.5,871.6 219.3,871.6 291.2,871.6 363.0,871.6 434.9,871.6 506.8,871.6 578.6,871.6 650.4,871.6 722.3,871.6 794.1,871.6 866.0,871.6 937.8,871.6 1009.7,871.6 1081.5,871.6 1153.4,871.6 1225.2,871.6 1297.1,871.6 1368.9,871.6 1440.8,871.6 1512.6,871.6" fill="none" stroke="#c8d860" stroke-width="1.2" stroke-opacity="1.0" stroke-linejoin="round"/>
<polyline points="113.0,870.5 147.5,870.5 219.3,870.5 291.2,870.5 363.0,870.5 434.9,870.5 506.8,870.5 578.6,870.5 650.4,870.5 722.3,870.5 794.1,870.5 866.0,870.5 937.8,870.5 1009.7,870.5 1081.5,870.5 1153.4,870.5 1225.2,870.5 1297.1,870.5 1368.9,870.5 1440.8,870.5 1512.6,870.5" fill="none" stroke="#56a64b" stroke-width="1.5" stroke-opacity="1.0" stroke-linejoin="round"/>
<polyline points="113.0,887.5 147.5,888.5 219.3,888.5 291.2,888.5 363.0,888.5 434.9,888.5 506.8,888.5 578.6,888.5 650.4,888.5 722.3,890.9 794.1,915.5 866.0,907.4 937.8,895.5 1009.7,935.0 1081.5,974.2 1153.4,889.2 1225.2,888.5 1297.1,888.0 1368.9,887.7 1440.8,980.2 1512.6,886.8" fill="none" stroke="#5bb050" stroke-width="2" stroke-opacity="1.0" stroke-linejoin="round"/>
<polyline points="113.0,885.6 147.5,885.6 219.3,885.6 291.2,885.6 363.0,885.6 434.9,885.6 506.8,885.6 578.6,885.6 650.4,885.6 722.3,885.6 794.1,885.6 866.0,885.6 937.8,885.6 1009.7,885.6 1081.5,885.6 1153.4,885.6 1225.2,885.6 1297.1,885.6 1368.9,885.6 1440.8,978.4 1512.6,886.8" fill="none" stroke="#f0d89a" stroke-width="2" stroke-opacity="1.0" stroke-linejoin="round"/>
<polyline points="113.0,868.0 147.5,868.0 219.3,868.0 291.2,868.0 363.0,868.0 434.9,868.0 506.8,868.0 578.6,868.0 650.4,868.0 722.3,868.0 794.1,842.6 866.0,848.4 937.8,859.6 1009.7,825.6 1081.5,776.4 1153.4,866.8 1225.2,868.0 1297.1,868.9 1368.9,868.9 1440.8,774.3 1512.6,865.9" fill="none" stroke="#f2495c" stroke-width="1.3" stroke-opacity="1.0" stroke-linejoin="round"/>
<polyline points="113.0,867.9 147.5,867.9 219.3,867.9 291.2,867.9 363.0,867.9 434.9,867.9 506.8,867.9 578.6,867.9 650.4,867.9 722.3,867.9 794.1,867.9 866.0,867.9 937.8,867.9 1009.7,865.0 1081.5,863.0 1153.4,861.0 1225.2,858.0 1297.1,868.5 1368.9,868.5 1440.8,868.5 1512.6,868.5" fill="none" stroke="#8f7fc8" stroke-width="1.5" stroke-opacity="1.0" stroke-linejoin="round"/>
<polyline points="113.0,861.6 147.5,861.6 219.3,861.6 291.2,861.6 363.0,861.6 434.9,861.6 506.8,861.6 578.6,861.6 650.4,861.6 722.3,861.6 794.1,861.6 866.0,861.6 937.8,861.6 1009.7,861.6 1081.5,861.6 1153.4,861.6 1225.2,861.6 1297.1,860.8 1368.9,860.8 1440.8,860.8 1512.6,860.8" fill="none" stroke="#c09060" stroke-width="1.0" stroke-opacity="0.8" stroke-linejoin="round"/>
<polyline points="113.0,860.7 147.5,860.7 219.3,860.7 291.2,860.7 363.0,860.7 434.9,860.7 506.8,860.7 578.6,860.7 650.4,860.7 722.3,860.7 794.1,860.7 866.0,860.7 937.8,860.7 1009.7,860.7 1081.5,858.4 1153.4,854.0 1225.2,848.0 1297.1,860.8 1368.9,860.8 1440.8,860.8 1512.6,860.8" fill="none" stroke="#1f60c4" stroke-width="2" stroke-opacity="1.0" stroke-linejoin="round"/>
<polyline points="113.0,857.2 147.5,857.2 219.3,857.2 291.2,857.2 363.0,857.2 434.9,857.2 506.8,857.2 578.6,857.2 650.4,857.2 722.3,857.2 794.1,856.6 866.0,857.2 937.8,857.2 1009.7,857.2 1081.5,855.5 1153.4,851.9 1225.2,846.5 1297.1,858.4 1368.9,858.4 1440.8,856.5 1512.6,854.0" fill="none" stroke="#c4162a" stroke-width="2" stroke-opacity="1.0" stroke-linejoin="round"/>
<g clip-path="url(#lgclip)">
<rect x="1574" y="736" width="21.3" height="6" rx="1.5" fill="#73bf69"/>
<text x="1606.5" y="745.2" font-size="18" fill="#ccccdc" textLength="126.0" lengthAdjust="spacingAndGlyphs" stroke="#ccccdc" stroke-width="0.22" >In | BASE_VLAN</text>
<rect x="1574" y="769" width="21.3" height="6" rx="1.5" fill="#f2cc0c"/>
<text x="1606.5" y="778.2" font-size="18" fill="#ccccdc" textLength="144.8" lengthAdjust="spacingAndGlyphs" stroke="#ccccdc" stroke-width="0.22" >In | FAMILY_VLAN</text>
<rect x="1574" y="802" width="21.3" height="6" rx="1.5" fill="#8ab8ff"/>
<text x="1606.5" y="811.2" font-size="18" fill="#ccccdc" textLength="128.6" lengthAdjust="spacingAndGlyphs" stroke="#ccccdc" stroke-width="0.22" >In | PROD_VLAN</text>
<rect x="1574" y="835" width="21.3" height="6" rx="1.5" fill="#c4162a"/>
<text x="1606.5" y="844.2" font-size="18" fill="#ccccdc" textLength="89.9" lengthAdjust="spacingAndGlyphs" stroke="#ccccdc" stroke-width="0.22" >In | defconf</text>
<rect x="1574" y="868" width="21.3" height="6" rx="1.5" fill="#f2495c"/>
<text x="1606.5" y="877.2" font-size="18" fill="#ccccdc" textLength="79.0" lengthAdjust="spacingAndGlyphs" stroke="#ccccdc" stroke-width="0.22" >In | ether1</text>
<rect x="1574" y="901" width="21.3" height="6" rx="1.5" fill="#1f60c4"/>
<text x="1606.5" y="910.2" font-size="18" fill="#ccccdc" textLength="79.0" lengthAdjust="spacingAndGlyphs" stroke="#ccccdc" stroke-width="0.22" >In | ether2</text>
<rect x="1574" y="934" width="21.3" height="6" rx="1.5" fill="#b877d9"/>
<text x="1606.5" y="943.2" font-size="18" fill="#ccccdc" textLength="79.0" lengthAdjust="spacingAndGlyphs" stroke="#ccccdc" stroke-width="0.22" >In | ether7</text>
<rect x="1574" y="967" width="21.3" height="6" rx="1.5" fill="#705da0"/>
<text x="1606.5" y="976.2" font-size="18" fill="#ccccdc" textLength="79.0" lengthAdjust="spacingAndGlyphs" stroke="#ccccdc" stroke-width="0.22" >In | ether8</text>
<rect x="1574" y="1000" width="21.3" height="6" rx="1.5" fill="#37872d"/>
<text x="1606.5" y="1009.2" font-size="18" fill="#ccccdc" textLength="63.6" lengthAdjust="spacingAndGlyphs" stroke="#ccccdc" stroke-width="0.22" >In | sfp1</text>
<rect x="1574" y="1033" width="21.3" height="6" rx="1.5" fill="#fade2a"/>
<text x="1606.5" y="1042.2" font-size="18" fill="#ccccdc" textLength="139.3" lengthAdjust="spacingAndGlyphs" stroke="#ccccdc" stroke-width="0.22" >Out | BASE_VLAN</text>
</g>
<rect x="12.5" y="1063.5" width="884" height="443" rx="4" fill="#181b1f" stroke="#24262b" stroke-width="1"/>
<text x="369.5" y="1095.2" font-size="21" fill="#ccccdc" textLength="170.0" lengthAdjust="spacingAndGlyphs" stroke="#ccccdc" stroke-width="0.55" >Incoming Packets</text>
<line x1="93.5" y1="1159.5" x2="695.3" y2="1159.5" stroke="rgba(255,255,255,0.13)" stroke-width="1"/>
<text x="85.5" y="1164.9" font-size="18" fill="#c9cad6" text-anchor="end" textLength="60.0" lengthAdjust="spacingAndGlyphs" stroke="#c9cad6" stroke-width="0.22" >40 kp/s</text>
<line x1="93.5" y1="1234.5" x2="695.3" y2="1234.5" stroke="rgba(255,255,255,0.13)" stroke-width="1"/>
<text x="85.5" y="1239.8" font-size="18" fill="#c9cad6" text-anchor="end" textLength="60.0" lengthAdjust="spacingAndGlyphs" stroke="#c9cad6" stroke-width="0.22" >30 kp/s</text>
<line x1="93.5" y1="1310.5" x2="695.3" y2="1310.5" stroke="rgba(255,255,255,0.13)" stroke-width="1"/>
<text x="85.5" y="1316.2" font-size="18" fill="#c9cad6" text-anchor="end" textLength="60.0" lengthAdjust="spacingAndGlyphs" stroke="#c9cad6" stroke-width="0.22" >20 kp/s</text>
<line x1="93.5" y1="1385.5" x2="695.3" y2="1385.5" stroke="rgba(255,255,255,0.13)" stroke-width="1"/>
<text x="85.5" y="1391.6" font-size="18" fill="#c9cad6" text-anchor="end" textLength="60.0" lengthAdjust="spacingAndGlyphs" stroke="#c9cad6" stroke-width="0.22" >10 kp/s</text>
<line x1="93.5" y1="1461.5" x2="695.3" y2="1461.5" stroke="rgba(255,255,255,0.13)" stroke-width="1"/>
<text x="85.5" y="1467.0" font-size="18" fill="#c9cad6" text-anchor="end" textLength="41.0" lengthAdjust="spacingAndGlyphs" stroke="#c9cad6" stroke-width="0.22" >0 p/s</text>
<line x1="144.5" y1="1135.4" x2="144.5" y2="1461.2" stroke="rgba(255,255,255,0.13)" stroke-width="1"/>
<text x="144.3" y="1490.4" font-size="18" fill="#c9cad6" text-anchor="middle" textLength="68.0" lengthAdjust="spacingAndGlyphs" stroke="#c9cad6" stroke-width="0.22" >14:20:00</text>
<line x1="263.5" y1="1135.4" x2="263.5" y2="1461.2" stroke="rgba(255,255,255,0.13)" stroke-width="1"/>
<text x="263.0" y="1490.4" font-size="18" fill="#c9cad6" text-anchor="middle" textLength="68.0" lengthAdjust="spacingAndGlyphs" stroke="#c9cad6" stroke-width="0.22" >14:21:00</text>
<line x1="382.5" y1="1135.4" x2="382.5" y2="1461.2" stroke="rgba(255,255,255,0.13)" stroke-width="1"/>
<text x="382.1" y="1490.4" font-size="18" fill="#c9cad6" text-anchor="middle" textLength="68.0" lengthAdjust="spacingAndGlyphs" stroke="#c9cad6" stroke-width="0.22" >14:22:00</text>
<line x1="501.5" y1="1135.4" x2="501.5" y2="1461.2" stroke="rgba(255,255,255,0.13)" stroke-width="1"/>
<text x="501.3" y="1490.4" font-size="18" fill="#c9cad6" text-anchor="middle" textLength="68.0" lengthAdjust="spacingAndGlyphs" stroke="#c9cad6" stroke-width="0.22" >14:23:00</text>
<line x1="620.5" y1="1135.4" x2="620.5" y2="1461.2" stroke="rgba(255,255,255,0.13)" stroke-width="1"/>
<text x="620.9" y="1490.4" font-size="18" fill="#c9cad6" text-anchor="middle" textLength="68.0" lengthAdjust="spacingAndGlyphs" stroke="#c9cad6" stroke-width="0.22" >14:24:00</text>
<polygon points="100.8,1461.2 100.8,1461.5 114.5,1461.5 144.3,1461.5 174.1,1461.5 203.9,1461.5 233.7,1461.5 263.5,1461.5 293.2,1461.5 323.0,1461.5 352.8,1461.5 382.6,1461.5 412.4,1461.5 442.2,1461.5 472.0,1461.5 501.8,1461.5 531.6,1461.5 561.4,1461.5 591.1,1461.5 620.9,1461.5 650.7,1461.5 680.5,1461.5 680.5,1461.2" fill="url(#g_in_BASE_VLAN)"/>
<polyline points="100.8,1461.5 114.5,1461.5 144.3,1461.5 174.1,1461.5 203.9,1461.5 233.7,1461.5 263.5,1461.5 293.2,1461.5 323.0,1461.5 352.8,1461.5 382.6,1461.5 412.4,1461.5 442.2,1461.5 472.0,1461.5 501.8,1461.5 531.6,1461.5 561.4,1461.5 591.1,1461.5 620.9,1461.5 650.7,1461.5 680.5,1461.5" fill="none" stroke="#73bf69" stroke-width="1.5" stroke-linejoin="round"/>
<polygon points="100.8,1461.2 100.8,1420.2 114.5,1420.8 144.3,1420.8 174.1,1420.8 203.9,1420.8 233.7,1421.9 263.5,1420.8 293.2,1420.8 323.0,1419.8 352.8,1419.8 382.6,1420.8 412.4,1419.4 442.2,1419.4 472.0,1420.8 501.8,1420.8 531.6,1418.8 561.4,1418.8 591.1,1418.8 620.9,1418.8 650.7,1420.8 680.5,1419.8 680.5,1461.2" fill="url(#g_in_FAMILY_VLAN)"/>
<polyline points="100.8,1420.2 114.5,1420.8 144.3,1420.8 174.1,1420.8 203.9,1420.8 233.7,1421.9 263.5,1420.8 293.2,1420.8 323.0,1419.8 352.8,1419.8 382.6,1420.8 412.4,1419.4 442.2,1419.4 472.0,1420.8 501.8,1420.8 531.6,1418.8 561.4,1418.8 591.1,1418.8 620.9,1418.8 650.7,1420.8 680.5,1419.8" fill="none" stroke="#f2cc0c" stroke-width="1.5" stroke-linejoin="round"/>
<polygon points="100.8,1461.2 100.8,1371.9 114.5,1370.4 144.3,1371.5 174.1,1372.5 203.9,1373.5 233.7,1383.8 263.5,1366.7 293.2,1364.6 323.0,1370.4 352.8,1362.5 382.6,1359.6 412.4,1357.3 442.2,1370.4 472.0,1295.8 501.8,1244.2 531.6,1351.7 561.4,1343.3 591.1,1376.7 620.9,1376.7 650.7,1254.2 680.5,1366.7 680.5,1461.2" fill="url(#g_in_PROD_VLAN)"/>
<polyline points="100.8,1371.9 114.5,1370.4 144.3,1371.5 174.1,1372.5 203.9,1373.5 233.7,1383.8 263.5,1366.7 293.2,1364.6 323.0,1370.4 352.8,1362.5 382.6,1359.6 412.4,1357.3 442.2,1370.4 472.0,1295.8 501.8,1244.2 531.6,1351.7 561.4,1343.3 591.1,1376.7 620.9,1376.7 650.7,1254.2 680.5,1366.7" fill="none" stroke="#8ab8ff" stroke-width="1.5" stroke-linejoin="round"/>
<polygon points="100.8,1461.2 100.8,1329.2 114.5,1329.2 144.3,1329.2 174.1,1329.2 203.9,1331.7 233.7,1342.7 263.5,1323.3 293.2,1322.5 323.0,1327.7 352.8,1319.8 382.6,1317.3 412.4,1314.6 442.2,1328.1 472.0,1258.3 501.8,1202.1 531.6,1307.7 561.4,1299.0 591.1,1332.9 620.9,1332.9 650.7,1212.5 680.5,1322.5 680.5,1461.2" fill="url(#g_in_defconf)"/>
<polyline points="100.8,1329.2 114.5,1329.2 144.3,1329.2 174.1,1329.2 203.9,1331.7 233.7,1342.7 263.5,1323.3 293.2,1322.5 323.0,1327.7 352.8,1319.8 382.6,1317.3 412.4,1314.6 442.2,1328.1 472.0,1258.3 501.8,1202.1 531.6,1307.7 561.4,1299.0 591.1,1332.9 620.9,1332.9 650.7,1212.5 680.5,1322.5" fill="none" stroke="#ff780a" stroke-width="1.5" stroke-linejoin="round"/>
<polygon points="100.8,1461.2 100.8,1449.0 114.5,1441.2 144.3,1443.8 174.1,1450.0 203.9,1447.9 233.7,1454.6 263.5,1440.6 293.2,1436.9 323.0,1440.6 352.8,1439.6 382.6,1353.8 412.4,1374.0 442.2,1418.8 472.0,1295.8 501.8,1167.7 531.6,1433.3 561.4,1432.3 591.1,1447.5 620.9,1446.9 650.7,1165.6 680.5,1439.6 680.5,1461.2" fill="url(#g_in_ether1)"/>
<polyline points="100.8,1449.0 114.5,1441.2 144.3,1443.8 174.1,1450.0 203.9,1447.9 233.7,1454.6 263.5,1440.6 293.2,1436.9 323.0,1440.6 352.8,1439.6 382.6,1353.8 412.4,1374.0 442.2,1418.8 472.0,1295.8 501.8,1167.7 531.6,1433.3 561.4,1432.3 591.1,1447.5 620.9,1446.9 650.7,1165.6 680.5,1439.6" fill="none" stroke="#f2495c" stroke-width="1.5" stroke-linejoin="round"/>
<polygon points="100.8,1461.2 100.8,1417.1 114.5,1417.7 144.3,1417.7 174.1,1417.7 203.9,1417.7 233.7,1419.8 263.5,1416.7 293.2,1417.7 323.0,1415.6 352.8,1417.7 382.6,1414.6 412.4,1412.9 442.2,1416.7 472.0,1356.2 501.8,1281.2 531.6,1394.8 561.4,1375.4 591.1,1415.6 620.9,1416.7 650.7,1417.7 680.5,1416.7 680.5,1461.2" fill="url(#g_in_ether2)"/>
<polyline points="100.8,1417.1 114.5,1417.7 144.3,1417.7 174.1,1417.7 203.9,1417.7 233.7,1419.8 263.5,1416.7 293.2,1417.7 323.0,1415.6 352.8,1417.7 382.6,1414.6 412.4,1412.9 442.2,1416.7 472.0,1356.2 501.8,1281.2 531.6,1394.8 561.4,1375.4 591.1,1415.6 620.9,1416.7 650.7,1417.7 680.5,1416.7" fill="none" stroke="#5794f2" stroke-width="1.5" stroke-linejoin="round"/>
<polygon points="100.8,1461.2 100.8,1457.9 114.5,1455.6 144.3,1457.7 174.1,1454.6 203.9,1459.8 233.7,1456.2 263.5,1458.8 293.2,1447.5 323.0,1459.8 352.8,1454.6 382.6,1447.5 412.4,1449.0 442.2,1455.8 472.0,1456.7 501.8,1455.8 531.6,1455.8 561.4,1460.8 591.1,1456.7 620.9,1456.7 650.7,1455.6 680.5,1460.8 680.5,1461.2" fill="url(#g_in_ether7)"/>
<polyline points="100.8,1457.9 114.5,1455.6 144.3,1457.7 174.1,1454.6 203.9,1459.8 233.7,1456.2 263.5,1458.8 293.2,1447.5 323.0,1459.8 352.8,1454.6 382.6,1447.5 412.4,1449.0 442.2,1455.8 472.0,1456.7 501.8,1455.8 531.6,1455.8 561.4,1460.8 591.1,1456.7 620.9,1456.7 650.7,1455.6 680.5,1460.8" fill="none" stroke="#b877d9" stroke-width="1.5" stroke-linejoin="round"/>
<polygon points="100.8,1461.2 100.8,1443.8 114.5,1445.8 144.3,1443.8 174.1,1445.8 203.9,1442.7 233.7,1446.9 263.5,1438.5 293.2,1446.9 323.0,1443.8 352.8,1437.9 382.6,1445.4 412.4,1442.7 442.2,1445.4 472.0,1442.7 501.8,1447.9 531.6,1450.0 561.4,1451.5 591.1,1451.5 620.9,1450.0 650.7,1451.5 680.5,1451.5 680.5,1461.2" fill="url(#g_in_ether8)"/>
<polyline points="100.8,1443.8 114.5,1445.8 144.3,1443.8 174.1,1445.8 203.9,1442.7 233.7,1446.9 263.5,1438.5 293.2,1446.9 323.0,1443.8 352.8,1437.9 382.6,1445.4 412.4,1442.7 442.2,1445.4 472.0,1442.7 501.8,1447.9 531.6,1450.0 561.4,1451.5 591.1,1451.5 620.9,1450.0 650.7,1451.5 680.5,1451.5" fill="none" stroke="#705da0" stroke-width="1.5" stroke-linejoin="round"/>
<polygon points="100.8,1461.2 100.8,1386.5 114.5,1387.1 144.3,1385.8 174.1,1386.7 203.9,1386.7 233.7,1395.4 263.5,1385.8 293.2,1386.7 323.0,1385.8 352.8,1385.8 382.6,1385.8 412.4,1385.8 442.2,1386.5 472.0,1386.5 501.8,1385.8 531.6,1385.8 561.4,1385.8 591.1,1385.4 620.9,1385.0 650.7,1263.5 680.5,1370.4 680.5,1461.2" fill="url(#g_in_sfp1)"/>
<polyline points="100.8,1386.5 114.5,1387.1 144.3,1385.8 174.1,1386.7 203.9,1386.7 233.7,1395.4 263.5,1385.8 293.2,1386.7 323.0,1385.8 352.8,1385.8 382.6,1385.8 412.4,1385.8 442.2,1386.5 472.0,1386.5 501.8,1385.8 531.6,1385.8 561.4,1385.8 591.1,1385.4 620.9,1385.0 650.7,1263.5 680.5,1370.4" fill="none" stroke="#37872d" stroke-width="1.5" stroke-linejoin="round"/>
<rect x="719" y="1135.0" width="21.5" height="6" rx="1.5" fill="#73bf69"/>
<text x="752.8" y="1143.9" font-size="18" fill="#ccccdc" textLength="97.8" lengthAdjust="spacingAndGlyphs" stroke="#ccccdc" stroke-width="0.22" >BASE_VLAN</text>
<rect x="719" y="1168.03" width="21.5" height="6" rx="1.5" fill="#f2cc0c"/>
<text x="752.8" y="1176.9" font-size="18" fill="#ccccdc" textLength="116.6" lengthAdjust="spacingAndGlyphs" stroke="#ccccdc" stroke-width="0.22" >FAMILY_VLAN</text>
<rect x="719" y="1201.06" width="21.5" height="6" rx="1.5" fill="#8ab8ff"/>
<text x="752.8" y="1210.0" font-size="18" fill="#ccccdc" textLength="100.4" lengthAdjust="spacingAndGlyphs" stroke="#ccccdc" stroke-width="0.22" >PROD_VLAN</text>
<rect x="719" y="1234.09" width="21.5" height="6" rx="1.5" fill="#ff780a"/>
<text x="752.8" y="1243.0" font-size="18" fill="#ccccdc" textLength="61.8" lengthAdjust="spacingAndGlyphs" stroke="#ccccdc" stroke-width="0.22" >defconf</text>
<rect x="719" y="1267.12" width="21.5" height="6" rx="1.5" fill="#f2495c"/>
<text x="752.8" y="1276.0" font-size="18" fill="#ccccdc" textLength="50.8" lengthAdjust="spacingAndGlyphs" stroke="#ccccdc" stroke-width="0.22" >ether1</text>
<rect x="719" y="1300.15" width="21.5" height="6" rx="1.5" fill="#5794f2"/>
<text x="752.8" y="1309.1" font-size="18" fill="#ccccdc" textLength="50.8" lengthAdjust="spacingAndGlyphs" stroke="#ccccdc" stroke-width="0.22" >ether2</text>
<rect x="719" y="1333.18" width="21.5" height="6" rx="1.5" fill="#b877d9"/>
<text x="752.8" y="1342.1" font-size="18" fill="#ccccdc" textLength="50.8" lengthAdjust="spacingAndGlyphs" stroke="#ccccdc" stroke-width="0.22" >ether7</text>
<rect x="719" y="1366.21" width="21.5" height="6" rx="1.5" fill="#705da0"/>
<text x="752.8" y="1375.1" font-size="18" fill="#ccccdc" textLength="50.8" lengthAdjust="spacingAndGlyphs" stroke="#ccccdc" stroke-width="0.22" >ether8</text>
<rect x="719" y="1399.24" width="21.5" height="6" rx="1.5" fill="#37872d"/>
<text x="752.8" y="1408.1" font-size="18" fill="#ccccdc" textLength="35.5" lengthAdjust="spacingAndGlyphs" stroke="#ccccdc" stroke-width="0.22" >sfp1</text>
<rect x="909.5" y="1063.5" width="884" height="443" rx="4" fill="#181b1f" stroke="#24262b" stroke-width="1"/>
<text x="1267.0" y="1095.2" font-size="21" fill="#ccccdc" textLength="168.4" lengthAdjust="spacingAndGlyphs" stroke="#ccccdc" stroke-width="0.55" >Outgoing packets</text>
<line x1="992" y1="1170.5" x2="1592.8" y2="1170.5" stroke="rgba(255,255,255,0.13)" stroke-width="1"/>
<text x="983.0" y="1176.4" font-size="18" fill="#c9cad6" text-anchor="end" textLength="60.0" lengthAdjust="spacingAndGlyphs" stroke="#c9cad6" stroke-width="0.22" >50 kp/s</text>
<line x1="992" y1="1229.5" x2="1592.8" y2="1229.5" stroke="rgba(255,255,255,0.13)" stroke-width="1"/>
<text x="983.0" y="1234.8" font-size="18" fill="#c9cad6" text-anchor="end" textLength="60.0" lengthAdjust="spacingAndGlyphs" stroke="#c9cad6" stroke-width="0.22" >40 kp/s</text>
<line x1="992" y1="1286.5" x2="1592.8" y2="1286.5" stroke="rgba(255,255,255,0.13)" stroke-width="1"/>
<text x="983.0" y="1292.6" font-size="18" fill="#c9cad6" text-anchor="end" textLength="60.0" lengthAdjust="spacingAndGlyphs" stroke="#c9cad6" stroke-width="0.22" >30 kp/s</text>
<line x1="992" y1="1345.5" x2="1592.8" y2="1345.5" stroke="rgba(255,255,255,0.13)" stroke-width="1"/>
<text x="983.0" y="1350.9" font-size="18" fill="#c9cad6" text-anchor="end" textLength="60.0" lengthAdjust="spacingAndGlyphs" stroke="#c9cad6" stroke-width="0.22" >20 kp/s</text>
<line x1="992" y1="1402.5" x2="1592.8" y2="1402.5" stroke="rgba(255,255,255,0.13)" stroke-width="1"/>
<text x="983.0" y="1408.7" font-size="18" fill="#c9cad6" text-anchor="end" textLength="60.0" lengthAdjust="spacingAndGlyphs" stroke="#c9cad6" stroke-width="0.22" >10 kp/s</text>
<line x1="992" y1="1461.5" x2="1592.8" y2="1461.5" stroke="rgba(255,255,255,0.13)" stroke-width="1"/>
<text x="983.0" y="1467.0" font-size="18" fill="#c9cad6" text-anchor="end" textLength="41.0" lengthAdjust="spacingAndGlyphs" stroke="#c9cad6" stroke-width="0.22" >0 p/s</text>
<line x1="1041.5" y1="1135.4" x2="1041.5" y2="1461.2" stroke="rgba(255,255,255,0.13)" stroke-width="1"/>
<text x="1041.3" y="1490.4" font-size="18" fill="#c9cad6" text-anchor="middle" textLength="68.0" lengthAdjust="spacingAndGlyphs" stroke="#c9cad6" stroke-width="0.22" >14:20:00</text>
<line x1="1160.5" y1="1135.4" x2="1160.5" y2="1461.2" stroke="rgba(255,255,255,0.13)" stroke-width="1"/>
<text x="1160.4" y="1490.4" font-size="18" fill="#c9cad6" text-anchor="middle" textLength="68.0" lengthAdjust="spacingAndGlyphs" stroke="#c9cad6" stroke-width="0.22" >14:21:00</text>
<line x1="1279.5" y1="1135.4" x2="1279.5" y2="1461.2" stroke="rgba(255,255,255,0.13)" stroke-width="1"/>
<text x="1279.1" y="1490.4" font-size="18" fill="#c9cad6" text-anchor="middle" textLength="68.0" lengthAdjust="spacingAndGlyphs" stroke="#c9cad6" stroke-width="0.22" >14:22:00</text>
<line x1="1398.5" y1="1135.4" x2="1398.5" y2="1461.2" stroke="rgba(255,255,255,0.13)" stroke-width="1"/>
<text x="1398.2" y="1490.4" font-size="18" fill="#c9cad6" text-anchor="middle" textLength="68.0" lengthAdjust="spacingAndGlyphs" stroke="#c9cad6" stroke-width="0.22" >14:23:00</text>
<line x1="1518.5" y1="1135.4" x2="1518.5" y2="1461.2" stroke="rgba(255,255,255,0.13)" stroke-width="1"/>
<text x="1518.4" y="1490.4" font-size="18" fill="#c9cad6" text-anchor="middle" textLength="68.0" lengthAdjust="spacingAndGlyphs" stroke="#c9cad6" stroke-width="0.22" >14:24:00</text>
<polygon points="998.0,1461.2 998.0,1451.5 1012.0,1451.7 1041.8,1452.1 1071.5,1452.5 1101.2,1452.5 1130.9,1452.5 1160.7,1452.1 1190.4,1451.7 1220.1,1451.7 1249.9,1451.7 1279.6,1451.7 1309.3,1451.7 1339.0,1451.7 1368.8,1452.1 1398.5,1451.7 1428.2,1451.7 1458.0,1451.7 1487.7,1451.7 1517.4,1451.7 1547.2,1451.7 1576.9,1452.5 1576.9,1461.2" fill="url(#g_out_BASE_VLAN)"/>
<polyline points="998.0,1451.5 1012.0,1451.7 1041.8,1452.1 1071.5,1452.5 1101.2,1452.5 1130.9,1452.5 1160.7,1452.1 1190.4,1451.7 1220.1,1451.7 1249.9,1451.7 1279.6,1451.7 1309.3,1451.7 1339.0,1451.7 1368.8,1452.1 1398.5,1451.7 1428.2,1451.7 1458.0,1451.7 1487.7,1451.7 1517.4,1451.7 1547.2,1451.7 1576.9,1452.5" fill="none" stroke="#73bf69" stroke-width="1.5" stroke-linejoin="round"/>
<polygon points="998.0,1461.2 998.0,1442.7 1012.0,1442.7 1041.8,1442.7 1071.5,1442.7 1101.2,1442.7 1130.9,1444.2 1160.7,1442.7 1190.4,1441.7 1220.1,1441.7 1249.9,1441.7 1279.6,1441.7 1309.3,1441.7 1339.0,1441.7 1368.8,1441.7 1398.5,1441.7 1428.2,1441.7 1458.0,1441.7 1487.7,1441.7 1517.4,1441.7 1547.2,1441.7 1576.9,1441.7 1576.9,1461.2" fill="url(#g_out_FAMILY_VLAN)"/>
<polyline points="998.0,1442.7 1012.0,1442.7 1041.8,1442.7 1071.5,1442.7 1101.2,1442.7 1130.9,1444.2 1160.7,1442.7 1190.4,1441.7 1220.1,1441.7 1249.9,1441.7 1279.6,1441.7 1309.3,1441.7 1339.0,1441.7 1368.8,1441.7 1398.5,1441.7 1428.2,1441.7 1458.0,1441.7 1487.7,1441.7 1517.4,1441.7 1547.2,1441.7 1576.9,1441.7" fill="none" stroke="#f2cc0c" stroke-width="1.5" stroke-linejoin="round"/>
<polygon points="998.0,1461.2 998.0,1410.4 1012.0,1404.2 1041.8,1405.2 1071.5,1410.4 1101.2,1409.4 1130.9,1417.7 1160.7,1406.7 1190.4,1403.5 1220.1,1404.6 1249.9,1395.8 1279.6,1332.3 1309.3,1350.6 1339.0,1388.1 1368.8,1283.3 1398.5,1209.4 1428.2,1396.9 1458.0,1395.8 1487.7,1405.8 1517.4,1406.7 1547.2,1191.7 1576.9,1403.1 1576.9,1461.2" fill="url(#g_out_PROD_VLAN)"/>
<polyline points="998.0,1410.4 1012.0,1404.2 1041.8,1405.2 1071.5,1410.4 1101.2,1409.4 1130.9,1417.7 1160.7,1406.7 1190.4,1403.5 1220.1,1404.6 1249.9,1395.8 1279.6,1332.3 1309.3,1350.6 1339.0,1388.1 1368.8,1283.3 1398.5,1209.4 1428.2,1396.9 1458.0,1395.8 1487.7,1405.8 1517.4,1406.7 1547.2,1191.7 1576.9,1403.1" fill="none" stroke="#8ab8ff" stroke-width="1.5" stroke-linejoin="round"/>
<polygon points="998.0,1461.2 998.0,1380.2 1012.0,1374.6 1041.8,1376.5 1071.5,1381.7 1101.2,1379.8 1130.9,1389.6 1160.7,1376.7 1190.4,1373.5 1220.1,1374.6 1249.9,1364.6 1279.6,1302.5 1309.3,1320.4 1339.0,1358.3 1368.8,1266.7 1398.5,1177.1 1428.2,1365.6 1458.0,1364.6 1487.7,1374.6 1517.4,1375.4 1547.2,1169.2 1576.9,1372.5 1576.9,1461.2" fill="url(#g_out_defconf)"/>
<polyline points="998.0,1380.2 1012.0,1374.6 1041.8,1376.5 1071.5,1381.7 1101.2,1379.8 1130.9,1389.6 1160.7,1376.7 1190.4,1373.5 1220.1,1374.6 1249.9,1364.6 1279.6,1302.5 1309.3,1320.4 1339.0,1358.3 1368.8,1266.7 1398.5,1177.1 1428.2,1365.6 1458.0,1364.6 1487.7,1374.6 1517.4,1375.4 1547.2,1169.2 1576.9,1372.5" fill="none" stroke="#ff780a" stroke-width="1.5" stroke-linejoin="round"/>
<polygon points="998.0,1461.2 998.0,1442.1 1012.0,1442.1 1041.8,1442.1 1071.5,1441.7 1101.2,1442.1 1130.9,1444.8 1160.7,1437.9 1190.4,1435.4 1220.1,1441.7 1249.9,1434.4 1279.6,1433.3 1309.3,1431.7 1339.0,1442.7 1368.8,1391.7 1398.5,1339.6 1428.2,1428.8 1458.0,1419.4 1487.7,1446.9 1517.4,1444.8 1547.2,1349.0 1576.9,1437.1 1576.9,1461.2" fill="url(#g_out_ether1)"/>
<polyline points="998.0,1442.1 1012.0,1442.1 1041.8,1442.1 1071.5,1441.7 1101.2,1442.1 1130.9,1444.8 1160.7,1437.9 1190.4,1435.4 1220.1,1441.7 1249.9,1434.4 1279.6,1433.3 1309.3,1431.7 1339.0,1442.7 1368.8,1391.7 1398.5,1339.6 1428.2,1428.8 1458.0,1419.4 1487.7,1446.9 1517.4,1444.8 1547.2,1349.0 1576.9,1437.1" fill="none" stroke="#f2495c" stroke-width="1.5" stroke-linejoin="round"/>
<polygon points="998.0,1461.2 998.0,1425.0 1012.0,1422.3 1041.8,1422.3 1071.5,1428.5 1101.2,1423.3 1130.9,1431.7 1160.7,1420.4 1190.4,1427.5 1220.1,1420.4 1249.9,1426.7 1279.6,1423.3 1309.3,1417.7 1339.0,1422.5 1368.8,1316.7 1398.5,1209.4 1428.2,1413.5 1458.0,1406.7 1487.7,1421.9 1517.4,1424.0 1547.2,1424.0 1576.9,1424.0 1576.9,1461.2" fill="url(#g_out_ether2)"/>
<polyline points="998.0,1425.0 1012.0,1422.3 1041.8,1422.3 1071.5,1428.5 1101.2,1423.3 1130.9,1431.7 1160.7,1420.4 1190.4,1427.5 1220.1,1420.4 1249.9,1426.7 1279.6,1423.3 1309.3,1417.7 1339.0,1422.5 1368.8,1316.7 1398.5,1209.4 1428.2,1413.5 1458.0,1406.7 1487.7,1421.9 1517.4,1424.0 1547.2,1424.0 1576.9,1424.0" fill="none" stroke="#5794f2" stroke-width="1.5" stroke-linejoin="round"/>
<polygon points="998.0,1461.2 998.0,1438.5 1012.0,1438.5 1041.8,1438.5 1071.5,1437.5 1101.2,1440.6 1130.9,1442.7 1160.7,1439.6 1190.4,1431.7 1220.1,1440.2 1249.9,1432.3 1279.6,1366.7 1309.3,1391.7 1339.0,1419.8 1368.8,1439.6 1398.5,1438.5 1428.2,1438.5 1458.0,1440.2 1487.7,1439.6 1517.4,1436.5 1547.2,1439.6 1576.9,1441.7 1576.9,1461.2" fill="url(#g_out_ether7)"/>
<polyline points="998.0,1438.5 1012.0,1438.5 1041.8,1438.5 1071.5,1437.5 1101.2,1440.6 1130.9,1442.7 1160.7,1439.6 1190.4,1431.7 1220.1,1440.2 1249.9,1432.3 1279.6,1366.7 1309.3,1391.7 1339.0,1419.8 1368.8,1439.6 1398.5,1438.5 1428.2,1438.5 1458.0,1440.2 1487.7,1439.6 1517.4,1436.5 1547.2,1439.6 1576.9,1441.7" fill="none" stroke="#b877d9" stroke-width="1.5" stroke-linejoin="round"/>
<polygon points="998.0,1461.2 998.0,1439.6 1012.0,1439.2 1041.8,1439.2 1071.5,1439.6 1101.2,1439.6 1130.9,1440.6 1160.7,1439.6 1190.4,1435.8 1220.1,1439.6 1249.9,1438.5 1279.6,1439.2 1309.3,1439.6 1339.0,1439.6 1368.8,1439.6 1398.5,1439.6 1428.2,1439.6 1458.0,1439.6 1487.7,1441.7 1517.4,1440.6 1547.2,1441.7 1576.9,1442.7 1576.9,1461.2" fill="url(#g_out_ether8)"/>
<polyline points="998.0,1439.6 1012.0,1439.2 1041.8,1439.2 1071.5,1439.6 1101.2,1439.6 1130.9,1440.6 1160.7,1439.6 1190.4,1435.8 1220.1,1439.6 1249.9,1438.5 1279.6,1439.2 1309.3,1439.6 1339.0,1439.6 1368.8,1439.6 1398.5,1439.6 1428.2,1439.6 1458.0,1439.6 1487.7,1441.7 1517.4,1440.6 1547.2,1441.7 1576.9,1442.7" fill="none" stroke="#705da0" stroke-width="1.5" stroke-linejoin="round"/>
<polygon points="998.0,1461.2 998.0,1394.2 1012.0,1394.2 1041.8,1394.2 1071.5,1394.2 1101.2,1395.8 1130.9,1401.7 1160.7,1395.8 1190.4,1396.5 1220.1,1396.5 1249.9,1393.3 1279.6,1394.8 1309.3,1391.7 1339.0,1394.2 1368.8,1394.2 1398.5,1393.3 1428.2,1393.8 1458.0,1392.7 1487.7,1390.6 1517.4,1390.6 1547.2,1183.3 1576.9,1385.4 1576.9,1461.2" fill="url(#g_out_sfp1)"/>
<polyline points="998.0,1394.2 1012.0,1394.2 1041.8,1394.2 1071.5,1394.2 1101.2,1395.8 1130.9,1401.7 1160.7,1395.8 1190.4,1396.5 1220.1,1396.5 1249.9,1393.3 1279.6,1394.8 1309.3,1391.7 1339.0,1394.2 1368.8,1394.2 1398.5,1393.3 1428.2,1393.8 1458.0,1392.7 1487.7,1390.6 1517.4,1390.6 1547.2,1183.3 1576.9,1385.4" fill="none" stroke="#37872d" stroke-width="1.5" stroke-linejoin="round"/>
<rect x="1616" y="1135.0" width="21.5" height="6" rx="1.5" fill="#73bf69"/>
<text x="1649.0" y="1143.9" font-size="18" fill="#ccccdc" textLength="97.8" lengthAdjust="spacingAndGlyphs" stroke="#ccccdc" stroke-width="0.22" >BASE_VLAN</text>
<rect x="1616" y="1168.03" width="21.5" height="6" rx="1.5" fill="#f2cc0c"/>
<text x="1649.0" y="1176.9" font-size="18" fill="#ccccdc" textLength="116.6" lengthAdjust="spacingAndGlyphs" stroke="#ccccdc" stroke-width="0.22" >FAMILY_VLAN</text>
<rect x="1616" y="1201.06" width="21.5" height="6" rx="1.5" fill="#8ab8ff"/>
<text x="1649.0" y="1210.0" font-size="18" fill="#ccccdc" textLength="100.4" lengthAdjust="spacingAndGlyphs" stroke="#ccccdc" stroke-width="0.22" >PROD_VLAN</text>
<rect x="1616" y="1234.09" width="21.5" height="6" rx="1.5" fill="#ff780a"/>
<text x="1649.0" y="1243.0" font-size="18" fill="#ccccdc" textLength="61.8" lengthAdjust="spacingAndGlyphs" stroke="#ccccdc" stroke-width="0.22" >defconf</text>
<rect x="1616" y="1267.12" width="21.5" height="6" rx="1.5" fill="#f2495c"/>
<text x="1649.0" y="1276.0" font-size="18" fill="#ccccdc" textLength="50.8" lengthAdjust="spacingAndGlyphs" stroke="#ccccdc" stroke-width="0.22" >ether1</text>
<rect x="1616" y="1300.15" width="21.5" height="6" rx="1.5" fill="#5794f2"/>
<text x="1649.0" y="1309.1" font-size="18" fill="#ccccdc" textLength="50.8" lengthAdjust="spacingAndGlyphs" stroke="#ccccdc" stroke-width="0.22" >ether2</text>
<rect x="1616" y="1333.18" width="21.5" height="6" rx="1.5" fill="#b877d9"/>
<text x="1649.0" y="1342.1" font-size="18" fill="#ccccdc" textLength="50.8" lengthAdjust="spacingAndGlyphs" stroke="#ccccdc" stroke-width="0.22" >ether7</text>
<rect x="1616" y="1366.21" width="21.5" height="6" rx="1.5" fill="#705da0"/>
<text x="1649.0" y="1375.1" font-size="18" fill="#ccccdc" textLength="50.8" lengthAdjust="spacingAndGlyphs" stroke="#ccccdc" stroke-width="0.22" >ether8</text>
<rect x="1616" y="1399.24" width="21.5" height="6" rx="1.5" fill="#37872d"/>
<text x="1649.0" y="1408.1" font-size="18" fill="#ccccdc" textLength="35.5" lengthAdjust="spacingAndGlyphs" stroke="#ccccdc" stroke-width="0.22" >sfp1</text>
</svg>
</body></html>
